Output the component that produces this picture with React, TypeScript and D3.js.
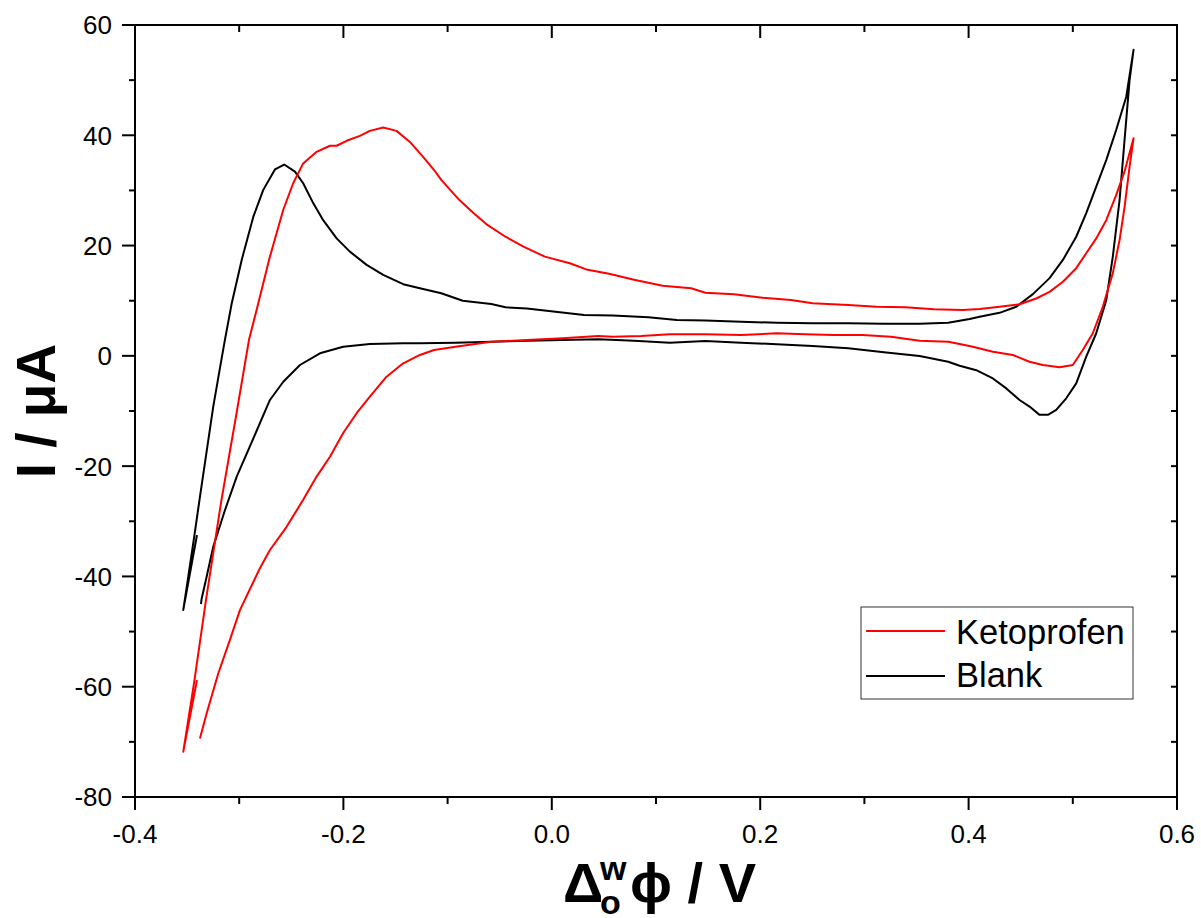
import React from "react";
import * as d3 from "d3";

// Cyclic voltammograms: [potential (V), current (µA)] in scan order
const ketoprofen: [number, number][] = [
  [-0.3405, -58.8], [-0.3537, -71.8], [-0.3429, -58.8], [-0.3319, -44.3], [-0.317, -26.1],
  [-0.3031, -11.0], [-0.2906, 2.9], [-0.2833, 8.3], [-0.2705, 18.0], [-0.2577, 26.5],
  [-0.2482, 31.3], [-0.2386, 34.9], [-0.2257, 37.0], [-0.2129, 38.1], [-0.2065, 38.1],
  [-0.1969, 39.0], [-0.1842, 39.9], [-0.1746, 40.8], [-0.1618, 41.4], [-0.149, 40.8],
  [-0.1362, 38.8], [-0.1235, 36.1], [-0.1129, 33.7], [-0.1061, 31.9], [-0.0889, 28.3],
  [-0.0752, 25.9], [-0.0615, 23.7], [-0.0444, 21.6], [-0.0272, 19.8], [-0.0067, 18.0],
  [0.0173, 16.8], [0.0344, 15.6], [0.055, 14.9], [0.0789, 13.8], [0.1064, 12.7],
  [0.1337, 12.25], [0.1474, 11.45], [0.1749, 11.16], [0.2023, 10.55], [0.2296, 10.13],
  [0.2503, 9.53], [0.2845, 9.22], [0.3118, 8.91], [0.3393, 8.81], [0.3667, 8.44],
  [0.3942, 8.32], [0.4106, 8.5], [0.4297, 8.9], [0.4489, 9.35], [0.4649, 10.4],
  [0.4777, 11.6], [0.4905, 13.45], [0.5033, 15.9], [0.5129, 18.6], [0.5225, 21.3],
  [0.5321, 24.6], [0.5417, 29.2], [0.5496, 33.4], [0.5583, 39.45],
  [0.5545, 34.3], [0.5497, 27.0], [0.5449, 21.0], [0.5384, 15.0], [0.5288, 8.9],
  [0.5192, 4.1], [0.5096, 1.06], [0.5, -1.66], [0.4873, -2.07], [0.4713, -1.66],
  [0.4585, -1.06], [0.4425, 0.16], [0.4233, 0.75], [0.4041, 1.66], [0.3914, 2.15],
  [0.3804, 2.57], [0.353, 2.75], [0.3256, 3.47], [0.2982, 3.78], [0.2708, 3.78],
  [0.2434, 3.91], [0.2159, 4.09], [0.1817, 3.78], [0.1474, 3.91], [0.1132, 3.91],
  [0.0858, 3.6], [0.0584, 3.47], [0.0447, 3.6], [0.0104, 3.18], [-0.0239, 2.88],
  [-0.0581, 2.57], [-0.0924, 1.66], [-0.1129, 1.06], [-0.1266, 0.16], [-0.1426, -1.35],
  [-0.1586, -3.78], [-0.1746, -7.4], [-0.1873, -10.4], [-0.2002, -14.0], [-0.2129, -18.3],
  [-0.2257, -21.9], [-0.2386, -26.1], [-0.2545, -31.0], [-0.2705, -35.2], [-0.2801, -38.5],
  [-0.2993, -46.1], [-0.3089, -51.5], [-0.3201, -57.6], [-0.3312, -64.8], [-0.3377, -69.4],
];

const blank: [number, number][] = [
  [-0.3405, -32.5], [-0.3537, -46.1], [-0.352, -44.0], [-0.3427, -32.2], [-0.3381, -26.1],
  [-0.3334, -20.1], [-0.3249, -9.2], [-0.3168, -0.4], [-0.3137, 2.9], [-0.3072, 9.5],
  [-0.2976, 17.4], [-0.2865, 25.2], [-0.2769, 30.1], [-0.2657, 33.8], [-0.2568, 34.7],
  [-0.2465, 33.4], [-0.2386, 31.3], [-0.229, 27.7], [-0.2194, 24.6], [-0.2065, 21.3],
  [-0.1938, 18.9], [-0.1777, 16.5], [-0.1618, 14.7], [-0.1426, 13.0], [-0.1266, 12.25],
  [-0.1061, 11.35], [-0.0855, 10.0], [-0.0581, 9.4], [-0.0444, 8.8], [-0.0239, 8.6],
  [0.0036, 8.0], [0.031, 7.4], [0.0584, 7.3], [0.0927, 7.0], [0.12, 6.5],
  [0.1474, 6.4], [0.1817, 6.2], [0.2159, 6.0], [0.2503, 5.9], [0.2845, 5.9],
  [0.3188, 5.8], [0.353, 5.8], [0.3804, 6.0], [0.401, 6.7], [0.4106, 7.1],
  [0.4297, 7.8], [0.4458, 8.9], [0.4617, 11.2], [0.4777, 14.1], [0.4905, 17.4],
  [0.5033, 21.6], [0.5129, 25.9], [0.5225, 30.7], [0.5321, 35.5], [0.5417, 41.0],
  [0.5513, 47.0], [0.5583, 55.5],
  [0.5545, 50.0], [0.5497, 39.2], [0.5449, 28.3], [0.5384, 18.0], [0.5321, 10.1],
  [0.5225, 4.1], [0.5129, -0.15], [0.5033, -5.0], [0.4937, -7.7], [0.4841, -9.8],
  [0.4761, -10.7], [0.4681, -10.7], [0.4585, -9.2], [0.4489, -8.0], [0.4362, -5.9],
  [0.4233, -4.1], [0.4074, -2.6], [0.3914, -1.8], [0.3804, -1.06], [0.353, -0.03],
  [0.3188, 0.65], [0.2845, 1.37], [0.2503, 1.79], [0.2159, 2.1], [0.1817, 2.39],
  [0.1474, 2.69], [0.1132, 2.39], [0.079, 2.75], [0.0447, 3.0], [0.0104, 2.88],
  [-0.0239, 2.75], [-0.0581, 2.57], [-0.0924, 2.39], [-0.1266, 2.28], [-0.1426, 2.28],
  [-0.1746, 2.15], [-0.2002, 1.66], [-0.2225, 0.46], [-0.2417, -1.66], [-0.2577, -4.69],
  [-0.2705, -8.0], [-0.2801, -12.2], [-0.2913, -17.1], [-0.3024, -21.9], [-0.3137, -28.0],
  [-0.3249, -34.6], [-0.3312, -40.0], [-0.336, -44.0], [-0.3367, -45.0],
];

const xMajorTicks = [-0.4, -0.2, 0.0, 0.2, 0.4, 0.6];
const xMinorTicks = [-0.3, -0.1, 0.1, 0.3, 0.5];
const yMajorTicks = [-80, -60, -40, -20, 0, 20, 40, 60];
const yMinorTicks = [-70, -50, -30, -10, 10, 30, 50];
const seriesNames = ["Ketoprofen", "Blank"];
const seriesColors = ["#ff0000", "#000000"];

const FONT = "'Liberation Sans', Arial, Helvetica, sans-serif";

export default function App() {
  const L = 135, R = 1177, T = 25, B = 797;
  const x = d3.scaleLinear().domain([-0.4, 0.6]).range([L, R]);
  const y = d3.scaleLinear().domain([-80, 60]).range([B, T]);
  const line = d3.line<[number, number]>().x((d) => x(d[0])).y((d) => y(d[1]));
  const fmtX = (v: number) => (Math.abs(v) < 1e-9 ? "0.0" : v.toFixed(1));

  return (
    <svg width={1201} height={918} style={{ position: "absolute", left: 0, top: 0, background: "#fff" }}>
      <defs>
        <clipPath id="plot">
          <rect x={L} y={T} width={R - L} height={B - T} />
        </clipPath>
      </defs>
      {/* data */}
      <g clipPath="url(#plot)" fill="none" strokeWidth={2} strokeLinejoin="round">
        <path d={line(blank) || ""} stroke={seriesColors[1]} />
        <path d={line(ketoprofen) || ""} stroke={seriesColors[0]} />
      </g>
      {/* frame */}
      <rect x={L} y={T} width={R - L} height={B - T} fill="none" stroke="#000" strokeWidth={2} />
      {/* bottom ticks (outward) and top ticks (inward) */}
      {xMajorTicks.map((v) => (
        <g key={"xM" + v}>
          <line x1={x(v)} x2={x(v)} y1={B} y2={B + 13} stroke="#000" strokeWidth={2} />
          <line x1={x(v)} x2={x(v)} y1={T} y2={T + 13} stroke="#000" strokeWidth={2} />
          <text x={x(v)} y={843} textAnchor="middle" fontFamily={FONT} fontSize={26} fill="#000">
            {fmtX(v)}
          </text>
        </g>
      ))}
      {xMinorTicks.map((v) => (
        <g key={"xm" + v}>
          <line x1={x(v)} x2={x(v)} y1={B} y2={B + 7} stroke="#000" strokeWidth={2} />
          <line x1={x(v)} x2={x(v)} y1={T} y2={T + 7} stroke="#000" strokeWidth={2} />
        </g>
      ))}
      {/* left ticks (outward) and right ticks (inward) */}
      {yMajorTicks.map((v) => (
        <g key={"yM" + v}>
          <line x1={L - 13} x2={L} y1={y(v)} y2={y(v)} stroke="#000" strokeWidth={2} />
          <line x1={R - 6} x2={R} y1={y(v)} y2={y(v)} stroke="#000" strokeWidth={2} />
          <text x={112} y={y(v)} dy="0.36em" textAnchor="end" fontFamily={FONT} fontSize={26} fill="#000">
            {String(v)}
          </text>
        </g>
      ))}
      {yMinorTicks.map((v) => (
        <g key={"ym" + v}>
          <line x1={L - 6} x2={L} y1={y(v)} y2={y(v)} stroke="#000" strokeWidth={2} />
          <line x1={R - 6} x2={R} y1={y(v)} y2={y(v)} stroke="#000" strokeWidth={2} />
        </g>
      ))}
      {/* axis titles */}
      <text
        transform={`translate(55, ${(T + B) / 2}) rotate(-90)`}
        textAnchor="middle"
        fontFamily={FONT}
        fontWeight="bold"
        fontSize={55}
        fill="#000"
      >
        I / μA
      </text>
      <g fontFamily={FONT} fontWeight="bold" fill="#000">
        <text x={563} y={902} fontSize={56}>Δ</text>
        <text x={600} y={880} fontSize={34}>w</text>
        <text x={600} y={914} fontSize={34}>o</text>
        <text x={630} y={902} fontSize={56}>ϕ / V</text>
      </g>
      {/* legend */}
      <rect x={861} y={607} width={272} height={92} fill="#fff" stroke="#333" strokeWidth={1} />
      {seriesNames.map((name, i) => (
        <g key={name}>
          <line x1={866} x2={945} y1={631 + i * 45} y2={631 + i * 45} stroke={seriesColors[i]} strokeWidth={2} />
          <text x={956} y={644 + i * 43} fontFamily={FONT} fontSize={34.5} fill="#000">
            {name}
          </text>
        </g>
      ))}
    </svg>
  );
}
